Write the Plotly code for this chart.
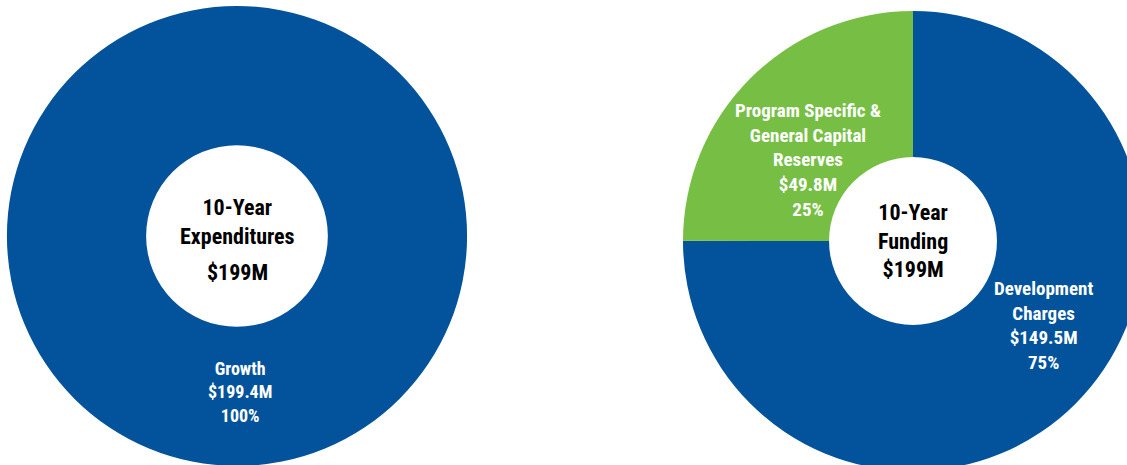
import plotly.graph_objects as go

# Data
exp_labels = ["Growth"]
exp_values = [199.4]
exp_title = "10-Year<br>Expenditures"

fund_labels = ["Development<br>Charges", "Program Specific &<br>General Capital<br>Reserves"]
fund_values = [149.5, 49.8]
fund_title = "10-Year<br>Funding"

BLUE = "#02539b"
GREEN = "#76bf44"
FONT = "Roboto Condensed, Open Sans Condensed, sans-serif"

# canvas a bit wider/taller than the window so the right ring can run off the edge
W, H = 1145, 475


def px(x):
    return x / W


def py(y):
    return 1 - y / H


def slice_text(label, value, total):
    pct = round(100 * value / total)
    return f"<b>{label}<br>${value:.1f}M<br>{pct}%</b>"


fig = go.Figure()

# left donut
fig.add_trace(go.Pie(labels=exp_labels, values=exp_values, hole=0.395, sort=False,
                     marker=dict(colors=[BLUE], line=dict(width=0)),
                     textinfo="none", hoverinfo="label+value+percent",
                     domain=dict(x=[px(7), px(467)], y=[py(466), py(6)])))

# right donut
fig.add_trace(go.Pie(labels=fund_labels, values=fund_values, hole=0.365, sort=False,
                     direction="clockwise", rotation=0,
                     marker=dict(colors=[BLUE, GREEN], line=dict(width=0)),
                     textinfo="none", hoverinfo="label+value+percent",
                     domain=dict(x=[px(683), px(1143)], y=[py(471), py(11)])))

exp_total = sum(exp_values)
fund_total = sum(fund_values)

annots = [
    # centre texts
    dict(x=px(237), y=py(222), text=f"<b>{exp_title}</b>", size=22, color="black"),
    dict(x=px(237), y=py(272), text=f"<b>${exp_total:.0f}M</b>", size=22, color="black"),
    dict(x=px(913), y=py(241), text=f"<b>{fund_title}<br>${fund_total:.0f}M</b>", size=22, color="black"),
    # slice labels
    dict(x=px(240), y=py(392), text=slice_text(exp_labels[0], exp_values[0], exp_total),
         size=18, color="white"),
    dict(x=px(1043), y=py(325), text=slice_text(fund_labels[0], fund_values[0], fund_total),
         size=19, color="white"),
    dict(x=px(808), y=py(160), text=slice_text(fund_labels[1], fund_values[1], fund_total),
         size=19, color="white"),
]
for a in annots:
    fig.add_annotation(x=a["x"], y=a["y"], xref="paper", yref="paper", text=a["text"],
                       showarrow=False, xanchor="center", yanchor="middle", align="center",
                       font=dict(family=FONT, size=a["size"], color=a["color"]))

fig.update_layout(width=W, height=H, autosize=False, showlegend=False,
                  margin=dict(l=0, r=0, t=0, b=0),
                  paper_bgcolor="white", plot_bgcolor="white",
                  font=dict(family=FONT))

fig.write_html("out.html", config={"displayModeBar": False},
               post_script="document.body.style.margin='0';document.body.style.overflow='hidden';")
